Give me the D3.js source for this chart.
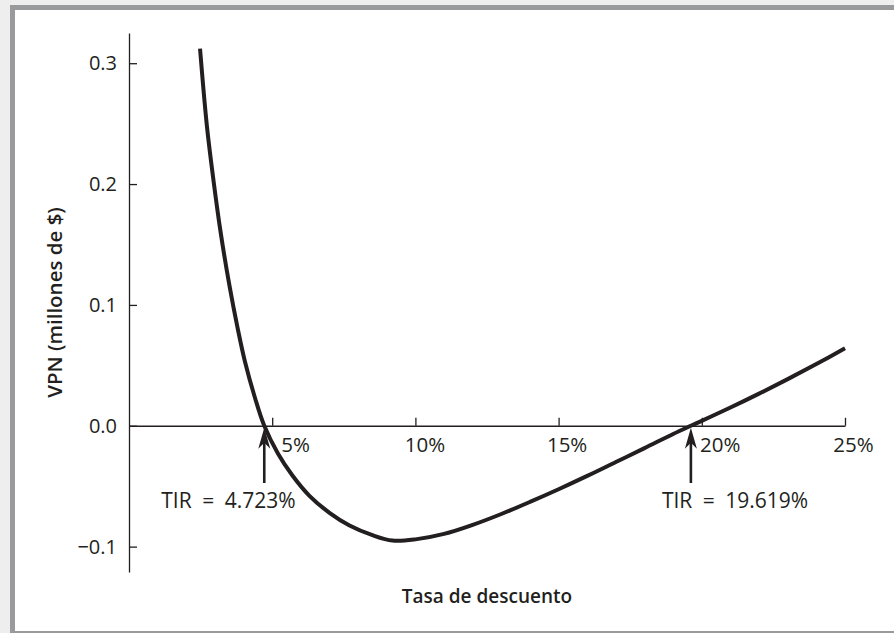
<!DOCTYPE html>
<html>
<head>
<meta charset="utf-8">
<script src="https://cdn.jsdelivr.net/npm/d3@7"></script>
<style>
  html, body { margin: 0; padding: 0; background: #eeeeee; }
  svg { display: block; }
  text { font-family: "Open Sans", "DejaVu Sans", sans-serif; fill: #231f20; }
</style>
</head>
<body>
<svg id="chart" width="894" height="633"></svg>
<script>
// ---- data ----
const rates = [2.48, 2.72, 2.95, 3.2, 3.5, 3.8, 4.05, 4.4, 4.723, 5.2, 5.7, 6.3, 7.0, 7.7, 8.5, 9.2, 10, 11, 12, 13, 14, 15, 16, 17, 18, 19, 19.619, 20, 21, 22, 23, 24, 25];
const npv   = [0.312, 0.248, 0.203, 0.160, 0.117, 0.080, 0.053, 0.023, 0, -0.023, -0.041, -0.058, -0.072, -0.0825, -0.0905, -0.095, -0.094, -0.0895, -0.082, -0.073, -0.063, -0.0525, -0.0415, -0.030, -0.0185, -0.0068, 0, 0.0041, 0.0151, 0.0266, 0.0386, 0.0511, 0.0641];
const xTicks = [5, 10, 15, 20, 25];
const xTickLabels = ["5%", "10%", "15%", "20%", "25%"];
const yTicks = [-0.1, 0, 0.1, 0.2, 0.3];
const yTickLabels = ["\u22120.1", "0.0", "0.1", "0.2", "0.3"];
const irrValues = [4.723, 19.619];
const irrLabels = ["TIR\u2002=\u20024.723%", "TIR\u2002=\u200219.619%"];
const xTitle = "Tasa de descuento";
const yTitle = "VPN (millones de $)";

// ---- layout ----
const svg = d3.select("#chart");
const ink = "#231f20";

// frame
svg.append("rect").attr("x", 10).attr("y", 5).attr("width", 884).attr("height", 628).attr("fill", "#999a9c");
svg.append("rect").attr("x", 15).attr("y", 10).attr("width", 879).attr("height", 621).attr("fill", "#ffffff");

const x = d3.scaleLinear().domain([0, 25]).range([129, 845]);
const y = d3.scaleLinear().domain([-0.121, 0.325]).range([572, 33]);

// y axis
const yAxis = d3.axisLeft(y)
  .tickValues(yTicks)
  .tickFormat((d, i) => yTickLabels[i])
  .tickSizeInner(-8).tickSizeOuter(0).tickPadding(12);
const gy = svg.append("g").attr("transform", `translate(${x(0)},0)`).call(yAxis);
gy.select(".domain").attr("stroke", ink).attr("stroke-width", 1.3);
gy.selectAll(".tick line").attr("stroke", ink).attr("stroke-width", 1.3);
gy.selectAll(".tick text").attr("font-size", 20).attr("fill", ink)
  .style("font-family", '"Open Sans", sans-serif');

// x axis (at zero)
const xLabelDx = {5: 23, 10: 9, 15: 8, 20: 18, 25: 8};
const xAxis = d3.axisBottom(x)
  .tickValues(xTicks)
  .tickFormat((d, i) => xTickLabels[i])
  .tickSizeInner(-8).tickSizeOuter(0).tickPadding(12);
const gx = svg.append("g").attr("transform", `translate(0,${y(0)})`).call(xAxis);
gx.select(".domain").attr("stroke", ink).attr("stroke-width", 1.3);
gx.selectAll(".tick line").attr("stroke", ink).attr("stroke-width", 1.3);
gx.selectAll(".tick text").attr("font-size", 20.5).attr("fill", ink)
  .attr("dx", d => xLabelDx[d])
  .style("font-family", '"Open Sans", sans-serif');

// curve
const data = rates.map((r, i) => ({r, v: npv[i]}));
const line = d3.line().x(d => x(d.r)).y(d => y(d.v)).curve(d3.curveCatmullRom.alpha(0.5));
svg.append("path").datum(data)
  .attr("d", line)
  .attr("fill", "none")
  .attr("stroke", ink)
  .attr("stroke-width", 4)
  .attr("stroke-linecap", "butt");

// IRR arrows
const labelDx = [-103, -29];
irrValues.forEach((r, i) => {
  const px = x(r), tip = y(0) + 2;
  svg.append("line").attr("x1", px).attr("x2", px)
    .attr("y1", tip + 12).attr("y2", 483)
    .attr("stroke", ink).attr("stroke-width", 2.6);
  svg.append("path")
    .attr("d", `M${px},${tip} L${px - 6},${tip + 21} L${px},${tip + 15} L${px + 6},${tip + 21} Z`)
    .attr("fill", ink);
  svg.append("text")
    .attr("x", px + labelDx[i]).attr("y", 508)
    .attr("font-size", 21)
    .text(irrLabels[i]);
});

// axis titles
svg.append("text")
  .attr("x", (x(0) + x(25)) / 2).attr("y", 603)
  .attr("text-anchor", "middle")
  .attr("font-size", 19).attr("font-weight", 600)
  .text(xTitle);
svg.append("text")
  .attr("transform", `translate(62,${(33 + 572) / 2}) rotate(-90)`)
  .attr("text-anchor", "middle")
  .attr("font-size", 20.5).attr("font-weight", 600)
  .text(yTitle);
</script>
</body>
</html>
